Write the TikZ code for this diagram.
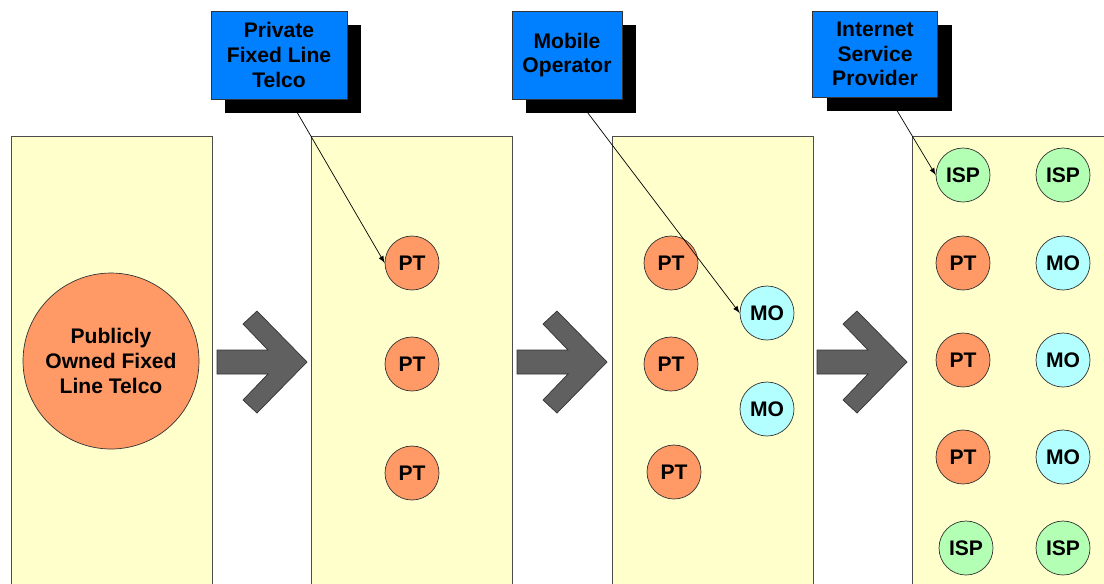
\documentclass[tikz,border=0pt]{standalone}
\usepackage{fontspec}
\setmainfont{Liberation Sans}
\usetikzlibrary{shadows}

\pgfdeclarelayer{front}
\pgfsetlayers{main,front}

\definecolor{panelyellow}{HTML}{FFFFCC}
\definecolor{telcoorange}{HTML}{FF9966}
\definecolor{mocyan}{HTML}{B3FFFF}
\definecolor{ispgreen}{HTML}{B3FFB3}
\definecolor{boxblue}{HTML}{0080FF}
\definecolor{arrowgray}{HTML}{606060}

\begin{document}
\begin{tikzpicture}[x=0.02cm, y=-0.02cm,
  font=\bfseries\fontsize{12}{14}\selectfont,
  panel/.style={draw=black!70, fill=panelyellow},
  firm/.style={circle, draw=black!80, minimum size=1.08cm, inner sep=0pt},
  pt/.style={firm, fill=telcoorange},
  mo/.style={firm, fill=mocyan},
  isp/.style={firm, fill=ispgreen},
  callout/.style={draw=black!80, fill=boxblue, align=center, inner sep=0pt,
    minimum height=1.76cm,
    general shadow={fill=black, shadow xshift=0.28cm, shadow yshift=-0.28cm}},
  stage/.style={draw=black!80, fill=arrowgray}]

  \useasboundingbox (0,0) rectangle (1104,583);
  \clip (0,0) rectangle (1104,583);

  % Panels
  \foreach \px in {11,311,612,912}
    \draw [panel] (\px,136) rectangle ++(201,460);

  % Stage arrows
  \foreach \dx in {0,300,600}
    \draw [stage, shift={(\dx,0)}] (217,350) -- (268,350) -- (243,324) -- (257,311)
      -- (307,362) -- (257,413) -- (243,400) -- (268,374) -- (217,374) -- cycle;

  % Stage 1
  \node [firm, fill=telcoorange, minimum size=3.52cm, align=center] (pub) at (111,361)
    {Publicly\\Owned Fixed\\Line Telco};

  % Stage 2
  \node [pt] (pt1) at (412,263) {PT};
  \node [pt] (pt2) at (412,364) {PT};
  \node [pt] (pt3) at (412,473) {PT};

  % Stage 3
  \node [pt] (pt4) at (671,263) {PT};
  \node [pt] (pt5) at (671,364) {PT};
  \node [pt] (pt6) at (674,472) {PT};
  \node [mo] (mo1) at (767,313) {MO};
  \node [mo] (mo2) at (767,409) {MO};

  % Stage 4
  \node [isp] (isp1) at (963,175) {ISP};
  \node [isp] (isp2) at (1063,175) {ISP};
  \node [pt] (pt7) at (963,263) {PT};
  \node [mo] (mo3) at (1063,263) {MO};
  \node [pt] (pt8) at (963,360) {PT};
  \node [mo] (mo4) at (1063,360) {MO};
  \node [pt] (pt9) at (963,457) {PT};
  \node [mo] (mo5) at (1063,457) {MO};
  \node [isp] (isp3) at (966,548) {ISP};
  \node [isp] (isp4) at (1063,548) {ISP};

  % Callouts
  \begin{pgfonlayer}{front}
    \node [callout, minimum width=2.72cm] (fixed) at (279,55)
      {Private\\Fixed Line\\Telco};
    \node [callout, minimum width=2.2cm] (mobile) at (567,55)
      {Mobile\\Operator};
    \node [callout, minimum width=2.5cm, minimum height=1.72cm] (internet) at (875,54)
      {Internet\\Service\\Provider};
  \end{pgfonlayer}

  \draw [-latex] ([xshift=6]fixed.south) -- (pt1.west);
  \draw [-latex] ([xshift=6]mobile.south) -- (mo1.west);
  \draw [-latex] ([xshift=8]internet.south) -- (isp1.west);

\end{tikzpicture}
\end{document}
